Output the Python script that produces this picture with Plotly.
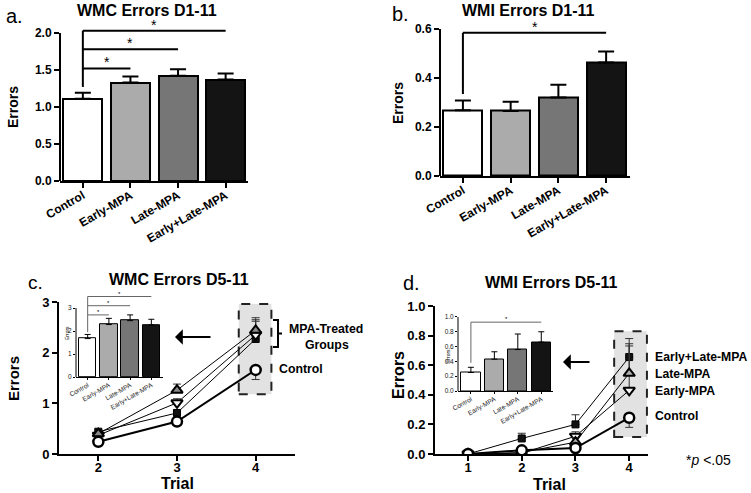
import plotly.graph_objects as go

W, H = 751, 493
def px(x): return x / W
def py(y): return 1 - y / H

FONT = "Liberation Sans, Arial, sans-serif"

# ---------------- data ----------------
groups = ["Control", "Early-MPA", "Late-MPA", "Early+Late-MPA"]
bar_colors = ["#ffffff", "#ababab", "#767676", "#141414"]

a_means = [1.11, 1.33, 1.42, 1.37]
a_sem = [0.08, 0.08, 0.09, 0.08]
b_means = [0.268, 0.265, 0.32, 0.463]
b_sem = [0.04, 0.038, 0.052, 0.045]
cin_means = [1.67, 2.28, 2.45, 2.26]
cin_sem = [0.18, 0.27, 0.25, 0.25]
din_means = [0.25, 0.43, 0.56, 0.66]
din_sem = [0.07, 0.10, 0.21, 0.14]

trials_c = [2, 3, 4]
c_control = [0.24, 0.64, 1.66]
c_control_sem = [0.03, 0.04, 0.19]
c_early = [0.37, 1.01, 2.35]
c_early_sem = [0.04, 0.08, 0.30]
c_late = [0.40, 1.26, 2.44]
c_late_sem = [0.05, 0.12, 0.25]
c_el = [0.44, 0.81, 2.27]
c_el_sem = [0.04, 0.06, 0.35]

trials_d = [1, 2, 3, 4]
d_control = [0.0, 0.025, 0.04, 0.245]
d_control_sem = [0.0, 0.01, 0.01, 0.065]
d_early = [0.0, 0.005, 0.12, 0.43]
d_early_sem = [0.0, 0.005, 0.03, 0.30]
d_late = [0.0, 0.01, 0.08, 0.545]
d_late_sem = [0.0, 0.01, 0.03, 0.20]
d_el = [0.0, 0.105, 0.2, 0.655]
d_el_sem = [0.0, 0.035, 0.065, 0.125]

# significance brackets: (from group, to group, level)
sig_a = [(0, 1, 1.52), (0, 2, 1.78), (0, 3, 2.03)]
sig_a_base = 1.27
sig_b = [(0, 3, 0.585)]
sig_b_base = 0.335
sig_cin = [(0, 1, 2.7), (0, 2, 3.1), (0, 3, 3.5)]
sig_cin_base = 1.95
sig_din = [(0, 3, 0.93)]
sig_din_base = 0.38

a_ticks = [0.0, 0.5, 1.0, 1.5, 2.0]
b_ticks = [0.0, 0.2, 0.4, 0.6]
c_ticks = [0, 1, 2, 3]
d_ticks = [0.0, 0.2, 0.4, 0.6, 0.8, 1.0]

fig = go.Figure()
shapes = []
annos = []
gx = list(range(len(groups)))

def ax_names(n):
    s = "" if n == 1 else str(n)
    return "x" + s, "y" + s, "xaxis" + s, "yaxis" + s

def setup(n, x0, x1, ybot, ytop, xr, yr, xtickvals, xticktext, ytickvals, yfmt,
          tfont, xangle, tickw, tickl, linew, yline_top=None, xstand=0):
    xa, ya, xk, yk = ax_names(n)
    fig.update_layout(**{
        xk: dict(domain=[px(x0), px(x1)], range=xr, anchor=ya, showgrid=False,
                 zeroline=False, showline=True, linecolor="black", linewidth=linew,
                 ticks="outside", ticklen=tickl, tickwidth=tickw, tickcolor="black",
                 tickvals=xtickvals, ticktext=xticktext, tickangle=xangle,
                 ticklabelstandoff=xstand,
                 tickfont=tfont, fixedrange=True, automargin=False),
        yk: dict(domain=[py(ybot), py(ytop)], range=yr, anchor=xa, showgrid=False,
                 zeroline=False, showline=(yline_top is None), linecolor="black",
                 linewidth=linew, ticks="outside", ticklen=tickl, tickwidth=tickw,
                 tickcolor="black", tickvals=ytickvals, tickformat=yfmt,
                 tickfont=tfont, fixedrange=True, automargin=False),
    })
    if yline_top is not None:
        shapes.append(dict(type="line", xref=xa + " domain", yref=ya, x0=0, x1=0,
                           y0=yr[0], y1=yline_top,
                           line=dict(color="black", width=linew)))

big_tf = dict(family=FONT, size=12, color="black", weight="bold")
cd_tf = dict(family=FONT, size=13, color="black", weight="bold")
in_tf = dict(family=FONT, size=6.5, color="#222")

# panel a
setup(1, 60, 248, 181, 24, [-0.48, 3.47], [0, 2.12], gx, groups, a_ticks, ".1f",
      big_tf, -30, 2, 5, 2, yline_top=a_ticks[-1], xstand=-4)
# panel b
setup(2, 440, 630, 176, 21.6, [-0.48, 3.5], [0, 0.63], gx, groups, b_ticks, ".1f",
      big_tf, -30, 2, 5, 2, yline_top=b_ticks[-1], xstand=-4)
# panel c main
setup(3, 59, 295, 454, 302, [1.5, 4.5], [0, 3], trials_c, [str(t) for t in trials_c],
      c_ticks, "d", cd_tf, 0, 2, 5, 2, xstand=-5)
# inset c
setup(4, 76, 163, 377, 294.2, [-0.55, 3.55], [0, 3.6], gx, groups, c_ticks, "d",
      in_tf, -30, 1, 2, 1, yline_top=c_ticks[-1], xstand=-1)
# panel d main
setup(5, 435, 648, 454, 306, [0.385, 4.35], [0, 1.0], trials_d, [str(t) for t in trials_d],
      d_ticks, ".1f", cd_tf, 0, 2, 5, 2, xstand=-5)
# inset d
setup(6, 458, 553, 391, 315.5, [-0.55, 3.5], [0, 1.02], gx, groups, d_ticks, ".1f",
      in_tf, -30, 1, 2, 1, yline_top=d_ticks[-1], xstand=-1)

def add_bars(n, means, sem, lw, ew, ecap):
    xa, ya, _, _ = ax_names(n)
    fig.add_trace(go.Bar(
        x=gx, y=means, width=0.82, xaxis=xa, yaxis=ya,
        marker=dict(color=bar_colors, line=dict(color="black", width=lw)),
        error_y=dict(type="data", symmetric=False, array=sem,
                     arrayminus=[0] * len(sem), color="black", thickness=ew, width=ecap),
        hoverinfo="skip"))

add_bars(1, a_means, a_sem, 2, 2, 8)
add_bars(2, b_means, b_sem, 2, 2, 8)
add_bars(4, cin_means, cin_sem, 1, 1, 3)
add_bars(6, din_means, din_sem, 1, 1, 3)

def add_sig(n, sigs, base, color, width, fsize, gap):
    xa, ya, _, _ = ax_names(n)
    top = max(s[2] for s in sigs)
    shapes.append(dict(type="line", xref=xa, yref=ya, x0=sigs[0][0], x1=sigs[0][0],
                       y0=base, y1=top, line=dict(color=color, width=width)))
    for g0, g1, lev in sigs:
        shapes.append(dict(type="line", xref=xa, yref=ya, x0=g0, x1=g1, y0=lev, y1=lev,
                           line=dict(color=color, width=width)))
        annos.append(dict(xref=xa, yref=ya, x=(g0 + g1) / 2, y=lev, text="*",
                          showarrow=False, yanchor="bottom", yshift=gap,
                          font=dict(family=FONT, size=fsize, color="black")))

add_sig(1, sig_a, sig_a_base, "black", 2, 14, -4)
add_sig(2, sig_b, sig_b_base, "black", 2, 14, -4)
add_sig(4, sig_cin, sig_cin_base, "#666", 1, 6, -2)
add_sig(6, sig_din, sig_din_base, "#666", 1, 6, -2)

# highlight boxes (below traces)
shapes.append(dict(type="rect", xref="x3", yref="y3", x0=3.785, x1=4.2, y0=1.18, y1=2.96,
                   fillcolor="#e2e2e2", line=dict(color="#222", width=2, dash="dash"),
                   layer="below"))
shapes.append(dict(type="rect", xref="x5", yref="y5", x0=3.72, x1=4.33, y0=0.115, y1=0.83,
                   fillcolor="#e2e2e2", line=dict(color="#222", width=2, dash="dash"),
                   layer="below"))

def add_lines(n, xs, series):
    xa, ya, _, _ = ax_names(n)
    for ys, sem, sym, fill, msize, mlw, lw, up in series:
        fig.add_trace(go.Scatter(
            x=xs, y=ys, xaxis=xa, yaxis=ya, mode="lines+markers",
            line=dict(color="black", width=lw),
            marker=dict(symbol=sym, size=msize, color=fill,
                        line=dict(color="black", width=mlw)),
            error_y=dict(type="data", symmetric=False,
                         array=sem if up else [0] * len(sem),
                         arrayminus=[0] * len(sem) if up else sem,
                         color="#333", thickness=1, width=4),
            hoverinfo="skip"))

add_lines(3, trials_c, [
    (c_el, c_el_sem, "square", "#111", 7, 1, 1, True),
    (c_early, c_early_sem, "triangle-down", "#f4f4f4", 10, 2, 1, True),
    (c_late, c_late_sem, "triangle-up", "#8a8a8a", 10, 2, 1, True),
    (c_control, c_control_sem, "circle", "white", 10, 2.5, 2, False),
])
add_lines(5, trials_d, [
    (d_el, d_el_sem, "square", "#111", 7, 1, 1, True),
    (d_early, d_early_sem, "triangle-down", "#f4f4f4", 10, 2, 1, True),
    (d_late, d_late_sem, "triangle-up", "#b0b0b0", 10, 2, 1, True),
    (d_control, d_control_sem, "circle", "white", 10, 2.5, 2, False),
])

def txt(x, y, text, size, bold=False, xanchor="center", yanchor="middle", angle=0,
        color="black"):
    annos.append(dict(xref="paper", yref="paper", x=px(x), y=py(y), text=text,
                      showarrow=False, xanchor=xanchor, yanchor=yanchor, textangle=angle,
                      font=dict(family=FONT, size=size, color=color,
                                weight="bold" if bold else "normal")))

# titles
txt(147, 11, "WMC Errors D1-11", 16, bold=True)
txt(528, 11, "WMI Errors D1-11", 16, bold=True)
txt(179, 279, "WMC Errors D5-11", 16, bold=True)
txt(551, 282, "WMI Errors D5-11", 16, bold=True)
# panel letters
txt(4, 16, "a.", 20, xanchor="left")
txt(390, 14, "b.", 20, xanchor="left")
txt(26, 282, "c.", 19, xanchor="left")
txt(401, 283, "d.", 20, xanchor="left")
# y titles
txt(13, 107, "Errors", 14, bold=True, angle=-90)
txt(398, 103, "Errors", 14, bold=True, angle=-90)
txt(13, 378, "Errors", 15, bold=True, angle=-90)
txt(398, 375, "Errors", 16, bold=True, angle=-90)
txt(67, 333, "Errors", 5, angle=-90)
txt(448, 356, "Errors", 5, angle=-90)
# x titles
txt(177, 483, "Trial", 16, bold=True)
txt(549, 484, "Trial", 16, bold=True)
# group labels
txt(326, 329, "MPA-Treated", 12.3, bold=True)
txt(327, 345, "Groups", 12.3, bold=True)
txt(277, 369, "Control", 12.3, bold=True, xanchor="left")
txt(653, 357, "Early+Late-MPA", 12.2, bold=True, xanchor="left")
txt(653, 374, "Late-MPA", 12.2, bold=True, xanchor="left")
txt(653, 391, "Early-MPA", 12.2, bold=True, xanchor="left")
txt(653, 416, "Control", 12.2, bold=True, xanchor="left")
annos.append(dict(xref="paper", yref="paper", x=px(684), y=py(470),
                  text="*<i>p</i> <.05", showarrow=False, xanchor="left",
                  font=dict(family=FONT, size=14, color="black")))

# arrows
for tip_x, tail_x, yy in [(175, 212, 337), (563, 591, 362)]:
    annos.append(dict(xref="paper", yref="paper", x=px(tip_x), y=py(yy), ax=tail_x - tip_x,
                      ay=0, text="", showarrow=True, arrowhead=1, arrowsize=1.3,
                      arrowwidth=2, arrowcolor="black"))

# bracket
shapes.append(dict(type="path", xref="paper", yref="paper",
                   path=(f"M {px(273)},{py(320)} L {px(278)},{py(320)} L {px(278)},{py(347)} "
                         f"L {px(273)},{py(347)} M {px(278)},{py(333.5)} L {px(282)},{py(333.5)}"),
                   line=dict(color="black", width=2)))

fig.update_layout(template="none", width=W, height=H, margin=dict(l=0, r=0, t=0, b=0),
                  paper_bgcolor="white", plot_bgcolor="rgba(0,0,0,0)",
                  showlegend=False, shapes=shapes, annotations=annos,
                  font=dict(family=FONT, color="black"), bargap=0)

fig.write_html("out.html", config={"displayModeBar": False},
               post_script="document.body.style.margin='0';document.body.style.overflow='hidden';")
